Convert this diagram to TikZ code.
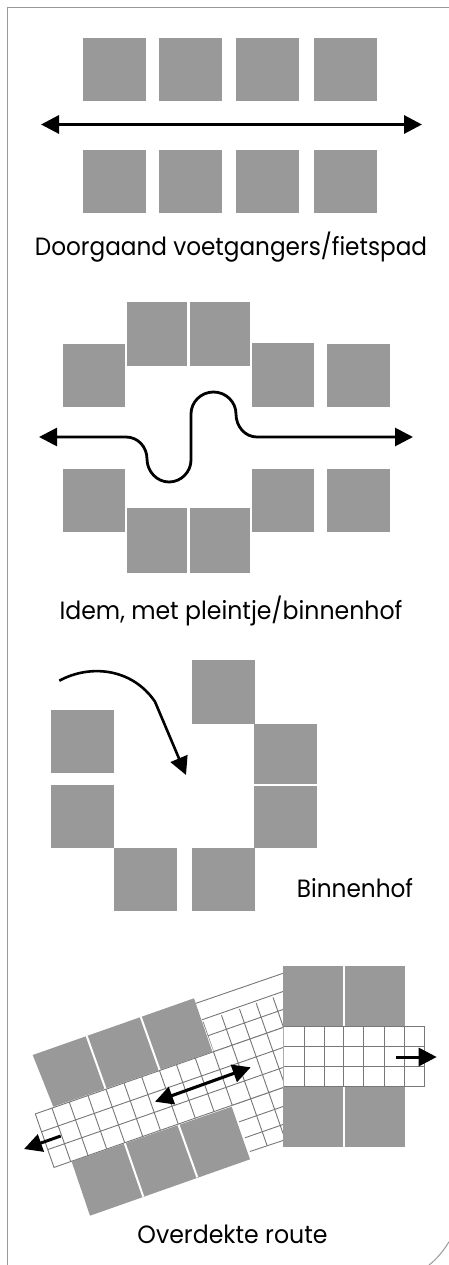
\documentclass[tikz,border=0pt]{standalone}
\usepackage{fontspec}
\setmainfont{Poppins}
\usetikzlibrary{arrows.meta}
\definecolor{blockgray}{HTML}{999999}
\definecolor{gridgray}{HTML}{777777}
\definecolor{framegray}{HTML}{999999}
\tikzset{
  x=1pt,y=-1pt,
  block/.style={fill=blockgray},
  gridline/.style={draw=gridgray,line width=0.9pt},
  framing/.style={draw=framegray,line width=1pt},
  gap/.style={draw=white,line width=2pt},
  route/.style={draw=black,line width=3.1pt,{Triangle[length=18pt,width=18pt]}-{Triangle[length=18pt,width=18pt]}},
  oneway/.style={draw=black,line width=3pt,-{Triangle[length=18pt,width=18pt]}},
  caption/.style={anchor=base,inner sep=0pt,font=\fontsize{25}{27}\selectfont,text=black},
}
\begin{document}
\begin{tikzpicture}
\useasboundingbox (0,0) rectangle (449,1265);
\fill[white] (0,0) rectangle (449,1265);
% frame
\draw[framing] (449,7.5) -- (7,7.5) -- (7,1265);
\draw[framing] (449,1241.7) .. controls (444,1250) and (437,1259) .. (429,1265);
% section 1
\foreach \x/\w in {83/146,159/222,236/299,314/377}{
  \fill[block] (\x,38) rectangle (\w,101);
  \fill[block] (\x,150) rectangle (\w,213);
}
\coordinate (a1) at (41,124.5);
\coordinate (a2) at (422,124.5);
\draw[route] (a1) -- (a2);
\node[caption,xscale=.927] (t1) at (231,255) {Doorgaand voetgangers/fietspad};
% section 2
\fill[block] (63,344) rectangle (125,407);
\fill[block] (127,302) rectangle (187,366);
\fill[block] (190,302) rectangle (250,366);
\fill[block] (252,343) rectangle (314,407);
\fill[block] (327,344) rectangle (390,407);
\fill[block] (63,469) rectangle (125,532);
\fill[block] (127,508) rectangle (187,573);
\fill[block] (190,508) rectangle (250,573);
\fill[block] (252,469) rectangle (314,532);
\fill[block] (327,469) rectangle (390,532);
\coordinate (b1) at (39,437);
\coordinate (b2) at (413,437);
\draw[route,line width=2.8pt] (b1) -- (126,437)
  .. controls (138,437) and (147,447) .. (147,459)
  .. controls (147,471.5) and (157,482) .. (169,482)
  .. controls (181,482) and (191,472) .. (191,460)
  -- (191,414)
  .. controls (191,402) and (201,392) .. (213.5,392)
  .. controls (226,392) and (236,402) .. (236,414)
  .. controls (236,426.5) and (245,437) .. (257,437)
  -- (b2);
\node[caption,xscale=.944] (t2) at (231,619) {Idem, met pleintje/binnenhof};
% section 3
\fill[block] (51,710) rectangle (114,773);
\fill[block] (51,785) rectangle (114,848);
\fill[block] (114,848) rectangle (177,911);
\fill[block] (192,848) rectangle (255,911);
\fill[block] (254,724) rectangle (317,784);
\fill[block] (254,786) rectangle (317,848);
\fill[block] (192,660) rectangle (255,723.5);
\coordinate (c1) at (59.3,680.7);
\coordinate (c2) at (155,701.7);
\coordinate (c3) at (186,775);
\draw[oneway,line width=2.6pt] (c1) .. controls (90,664) and (132,668) .. (c2) -- (c3);
\node[caption,xscale=.928] (t3) at (355,897) {Binnenhof};
% section 4: wide rotated grid
\begin{scope}
  \clip (196,1003.3) -- (283,973.3) -- (283,1140.5) -- (250,1151.5) -- cycle;
  \foreach \r in {991.5,1009.5,1027.5,1047.5,1067.5,1087.5,1106.5,1124.5}{
    \draw[gridline] (283,\r) -- (180,{\r+103*0.349});
  }
  \foreach \X in {213.5,232,250,266.7,283.5,301}{
    \draw[gridline] ({\X-30*0.35},{1027.5+(283-\X)*0.349-30}) -- ({\X+160*0.35},{1027.5+(283-\X)*0.349+160});
  }
\end{scope}
\draw[gridline] (196,1003.3) -- (283,973.3);
\draw[gridline] (250,1151.5) -- (283,1140.5);
% rotated blocks
\fill[block] (32.7,1055) -- (194,998.3) -- (212.3,1051.7) -- (53.3,1106.7) -- cycle;
\draw[gap] (86.7,1036) -- (106,1090);
\draw[gap] (140.7,1016.7) -- (160,1071);
\fill[block] (71.7,1161.7) -- (90,1215.7) -- (250,1159.3) -- (231.7,1106.7) -- cycle;
\draw[gap] (124,1141) -- (143.3,1196.7);
\draw[gap] (177.5,1122) -- (197.3,1177.3);
% rotated band
\fill[white] (35.3,1113.9) -- (283,1027.5) -- (283,1087.5) -- (54,1167.4) -- cycle;
\begin{scope}
  \clip (35.3,1113.9) -- (283,1027.5) -- (283,1087.5) -- (54,1167.4) -- cycle;
  \foreach \X in {52,69.3,88,106,124,141.7,159.5,176.5,195.3,213.5,232,250,266.7}{
    \draw[gridline] (\X,{1027.5+(283-\X)*0.349}) -- ({\X+25},{1027.5+(283-\X)*0.349+71.4});
  }
  \foreach \r in {1047.5,1067.5}{
    \draw[gridline] (283,\r) -- (30,{\r+253*0.349});
  }
\end{scope}
\draw[gridline] (283,1027.5) -- (35.3,1113.9) -- (54,1167.4) -- (283,1087.5);
% right squares
\fill[block] (283,966) rectangle (343,1026);
\fill[block] (345,966) rectangle (405,1026);
\fill[block] (283,1087) rectangle (343,1147);
\fill[block] (345,1087) rectangle (405,1147);
% right grid
\fill[white] (283,1026.5) rectangle (424.3,1086.5);
\draw[gridline] (283,1026.5) -- (424.3,1026.5) -- (424.3,1086.5) -- (283,1086.5);
\draw[gridline] (283,1046.7) -- (424.3,1046.7);
\draw[gridline] (283,1066.7) -- (424.3,1066.7);
\foreach \x in {304.3,324,343.7,363,384.3,404.3}{
  \draw[gridline] (\x,1026.5) -- (\x,1086.5);
}
\draw[draw=gridgray!60,line width=0.9pt] (283,1026.5) -- (283,1086.5);
% arrows
\coordinate (d1) at (155,1101.7);
\coordinate (d2) at (250.7,1067.3);
\draw[route] (d1) -- (d2);
\coordinate (e1) at (60.7,1136);
\coordinate (e2) at (24,1149);
\draw[oneway] (e1) -- (e2);
\coordinate (f1) at (396,1057);
\coordinate (f2) at (436.7,1057);
\draw[oneway] (f1) -- (f2);
\node[caption,xscale=.946] (t4) at (232.5,1243) {Overdekte route};
\end{tikzpicture}
\end{document}
